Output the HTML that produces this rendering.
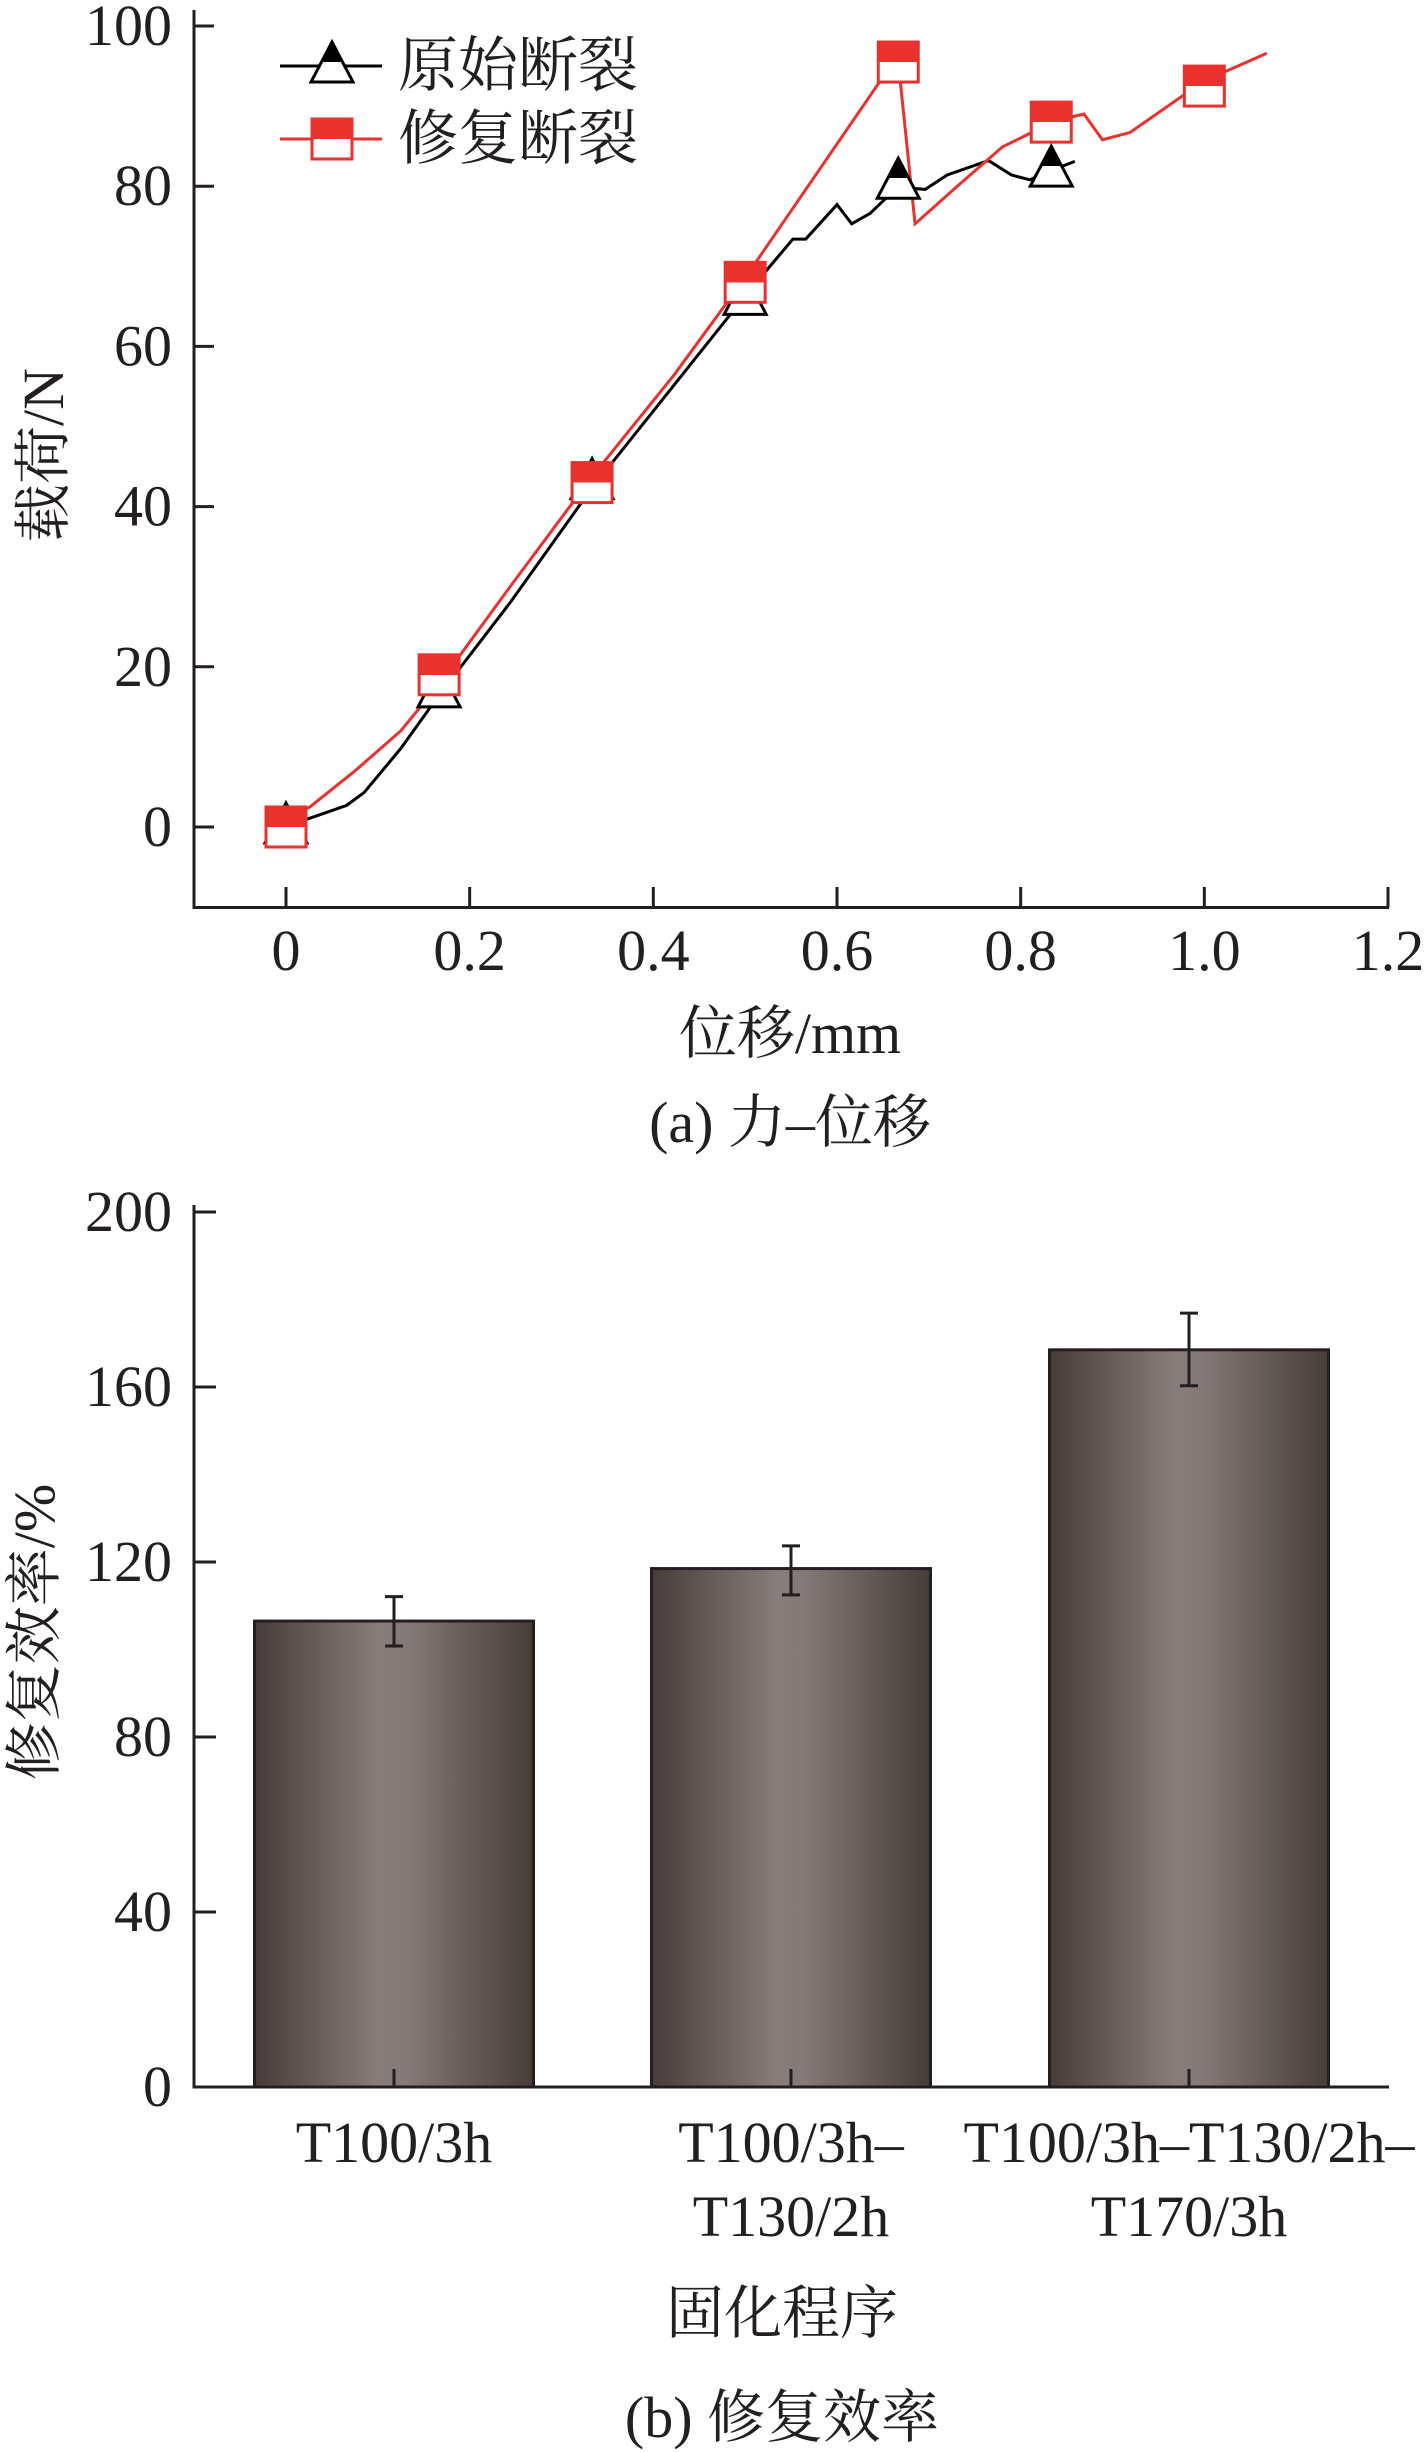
<!DOCTYPE html>
<html><head><meta charset="utf-8"><style>
body{margin:0;background:#fff}
svg{display:block}
text{font-family:"Liberation Serif","Noto Serif CJK SC",serif;fill:#231f20}
</style></head><body>
<svg width="1428" height="2452" viewBox="0 0 1428 2452" xmlns="http://www.w3.org/2000/svg">
<defs>
<linearGradient id="barGrad" x1="0" x2="1" y1="0" y2="0">
<stop offset="0" stop-color="#463d38"/><stop offset="0.45" stop-color="#877d7a"/><stop offset="0.55" stop-color="#837976"/><stop offset="1" stop-color="#463d38"/>
</linearGradient>
<linearGradient id="triGrad" x1="0" x2="0" y1="0" y2="1">
<stop offset="0.5" stop-color="#000"/><stop offset="0.5" stop-color="#fff"/>
</linearGradient>
<linearGradient id="sqGrad" x1="0" x2="0" y1="0" y2="1">
<stop offset="0.5" stop-color="#e8322e"/><stop offset="0.5" stop-color="#fff"/>
</linearGradient>
</defs>
<g id="chartA"></g>
<g id="chartB"></g>
</svg>
<script>
const NS="http://www.w3.org/2000/svg";
// Chart A data
const blackX=[0,0.026,0.066,0.085,0.125,0.165,0.244,0.333,0.413,0.502,0.552,0.566,0.6,0.616,0.636,0.666,0.696,0.72,0.765,0.79,0.81,0.834,0.859];
const blackY=[0,1.1,2.7,4.3,9.8,16.2,28,42.3,53.8,66.6,73.4,73.4,77.7,75.3,76.6,79.9,79.6,81.4,83.2,81.4,80.8,82,83.1];
const redX=[0,0.026,0.075,0.125,0.165,0.244,0.333,0.423,0.502,0.666,0.685,0.73,0.78,0.805,0.834,0.869,0.889,0.919,0.999,1.068];
const redY=[1,2.5,7,12,17.6,30,43.7,56.5,68.9,96.3,75.3,79.9,84.9,86.3,88.1,89,85.8,86.7,93.1,96.6];
const blackMarkX=[0,0.1667,0.3333,0.5,0.6667,0.8333];
const blackMarkY=[0,17,43,66,80.5,82];
const redMarkX=[0,0.1667,0.3333,0.5,0.6667,0.8333,1.0];
const redMarkY=[0,19,43,68,95.5,88,92.5];
const xTicksA=[0,0.2,0.4,0.6,0.8,1.0,1.2];
const xTickLabelsA=["0","0.2","0.4","0.6","0.8","1.0","1.2"];
const yTicksA=[0,20,40,60,80,100];
// Chart B data
const categories=[["T100/3h"],["T100/3h–","T130/2h"],["T100/3h–T130/2h–","T170/3h"]];
const barValues=[106.5,118.5,168.5];
const errLow=[100.8,112.5,160.3];
const errHigh=[112.1,123.7,176.9];
const yTicksB=[0,40,80,120,160,200];

function el(tag,attrs,parent,txt){const e=document.createElementNS(NS,tag);for(const k in attrs)e.setAttribute(k,attrs[k]);if(txt!==undefined)e.textContent=txt;parent.appendChild(e);return e;}

// Chart A
const A=document.getElementById('chartA');
const ax=v=>286+v*(1388-286)/1.2;
const ay=v=>827-v*(827-26)/100;
let e;
e=el('path',{d:'M194 10 V907.5 H1389',fill:'none',stroke:'#231f20','stroke-width':3},A);


yTicksA.forEach(v=>{
 e=el('line',{x1:194,x2:214,y1:ay(v),y2:ay(v),stroke:'#231f20','stroke-width':3},A);
 
 
 e=el('text',{x:172,y:ay(v)+19,'text-anchor':'end','font-size':58},A,String(v));
 
 
});
xTicksA.forEach((v,i)=>{
 e=el('line',{x1:ax(v),x2:ax(v),y1:907.5,y2:887,stroke:'#231f20','stroke-width':3},A);
 
 
 e=el('text',{x:ax(v),y:970,'text-anchor':'middle','font-size':58},A,xTickLabelsA[i]);
 
 
});
e=el('text',{x:0,y:0,'text-anchor':'middle','font-size':58,transform:'translate(63 455) rotate(-90)'},A,'载荷/N');


e=el('text',{x:790,y:1053,'text-anchor':'middle','font-size':58},A,'位移/mm');


e=el('text',{x:790,y:1142,'text-anchor':'middle','font-size':58},A,'(a) 力–位移');


e=el('polyline',{points:blackX.map((x,i)=>ax(x)+','+ay(blackY[i])).join(' '),fill:'none',stroke:'#000','stroke-width':3},A);


e=el('polyline',{points:redX.map((x,i)=>ax(x)+','+ay(redY[i])).join(' '),fill:'none',stroke:'#e8322e','stroke-width':3},A);


function tri(cx,cy,p){return el('path',{d:`M${cx} ${cy-24} L${cx+21} ${cy+16} L${cx-21} ${cy+16} Z`,fill:'url(#triGrad)',stroke:'#000','stroke-width':3},p);}
function sq(cx,cy,p){return el('rect',{x:cx-20,y:cy-20,width:40,height:40,fill:'url(#sqGrad)',stroke:'#e8322e','stroke-width':3},p);}
blackMarkX.forEach((x,i)=>{
 e=tri(ax(x),ay(blackMarkY[i]),A);
 
 
});
redMarkX.forEach((x,i)=>{
 e=sq(ax(x),ay(redMarkY[i]),A);
 
 
});
// legend
const L=el('g',{},A);


el('line',{x1:280,x2:382,y1:66,y2:66,stroke:'#000','stroke-width':3},L);
tri(332,66,L);
e=el('text',{x:398,y:86,'font-size':60},L,'原始断裂');


el('line',{x1:280,x2:382,y1:139,y2:139,stroke:'#e8322e','stroke-width':3},L);
sq(332,139,L);
e=el('text',{x:398,y:159,'font-size':60},L,'修复断裂');



// Chart B
const B=document.getElementById('chartB');
const by=v=>2087-v*(2087-1212)/200;
const centers=[394,791,1189];
const bw=279;
barValues.forEach((v,i)=>{
 e=el('rect',{x:centers[i]-bw/2,y:by(v),width:bw,height:by(0)-by(v),fill:'url(#barGrad)',stroke:'#231f20','stroke-width':3},B);
 
 
 e=el('path',{d:`M${centers[i]} ${by(errLow[i])} V${by(errHigh[i])} M${centers[i]-9} ${by(errLow[i])} H${centers[i]+9} M${centers[i]-9} ${by(errHigh[i])} H${centers[i]+9}`,fill:'none',stroke:'#231f20','stroke-width':3},B);
 
 
 e=el('line',{x1:centers[i],x2:centers[i],y1:by(0),y2:by(0)-18,stroke:'#231f20','stroke-width':3},B);
 
 
 categories[i].forEach((t,j)=>{
  e=el('text',{x:centers[i],y:2162+j*74,'text-anchor':'middle','font-size':58},B,t);
  
  
 });
});
e=el('path',{d:'M194 1205 V2087 H1389',fill:'none',stroke:'#231f20','stroke-width':3},B);


yTicksB.forEach(v=>{
 e=el('line',{x1:194,x2:216,y1:by(v),y2:by(v),stroke:'#231f20','stroke-width':3},B);
 
 
 e=el('text',{x:172,y:by(v)+19,'text-anchor':'end','font-size':58},B,String(v));
 
 
});
e=el('text',{x:0,y:0,'text-anchor':'middle','font-size':58,transform:'translate(54 1632) rotate(-90)'},B,'修复效率/%');


e=el('text',{x:782,y:2333,'text-anchor':'middle','font-size':58},B,'固化程序');


e=el('text',{x:782,y:2437,'text-anchor':'middle','font-size':58},B,'(b) 修复效率');


</script>
</body></html>
